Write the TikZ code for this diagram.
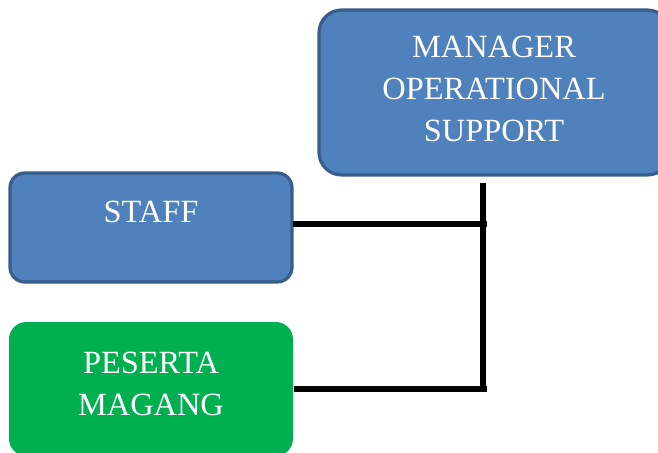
\documentclass[tikz,border=0pt]{standalone}
\usepackage{fontspec}
\setmainfont{Liberation Serif}
\definecolor{boxblue}{HTML}{4F81BD}
\definecolor{boxedge}{HTML}{385D8A}
\definecolor{boxgreen}{HTML}{00B050}
\tikzset{
  bluebox/.style={draw=boxedge, line width=2.4pt, fill=boxblue, rounded corners=11pt},
  greenbox/.style={fill=boxgreen, rounded corners=13pt},
  lbl/.style={text=white, font=\fontsize{24.3}{31.5}\selectfont, anchor=base, inner sep=0pt},
  conn/.style={line width=5pt}
}
\begin{document}
\begin{tikzpicture}[x=0.75pt,y=-0.75pt]
\useasboundingbox (0,0) rectangle (658,453);
\clip (0,0) rectangle (658,453);
% boxes
\draw[bluebox, rounded corners=17pt] (319,10) rectangle (670,175);
\node[inner sep=0pt, minimum size=0pt] (mgr) at (494,92) {};
\draw[bluebox] (10,173) rectangle (292,282);
\node[inner sep=0pt] (staff) at (292,224) {};
\fill[greenbox] (9,322) rectangle (293,456);
\node[inner sep=0pt] (peserta) at (293,389) {};
% texts
\node[lbl] (t1) at (494,58) {MANAGER};
\node[lbl] (t2) at (494,100) {OPERATIONAL};
\node[lbl] (t3) at (494,142) {SUPPORT};
\node[lbl] (t4) at (151,223) {STAFF};
\node[lbl] (t5) at (151,373) {PESERTA};
\node[lbl] (t6) at (151,415) {MAGANG};
% connectors
\coordinate (top) at (483,183);
\coordinate (j1) at (487,224);
\coordinate (j2) at (487,389);
\coordinate (bot) at (483,392);
\draw[conn] (top) -- (bot);
\draw[conn] (staff) -- (j1);
\draw[conn] (peserta) -- (j2);
\end{tikzpicture}
\end{document}
